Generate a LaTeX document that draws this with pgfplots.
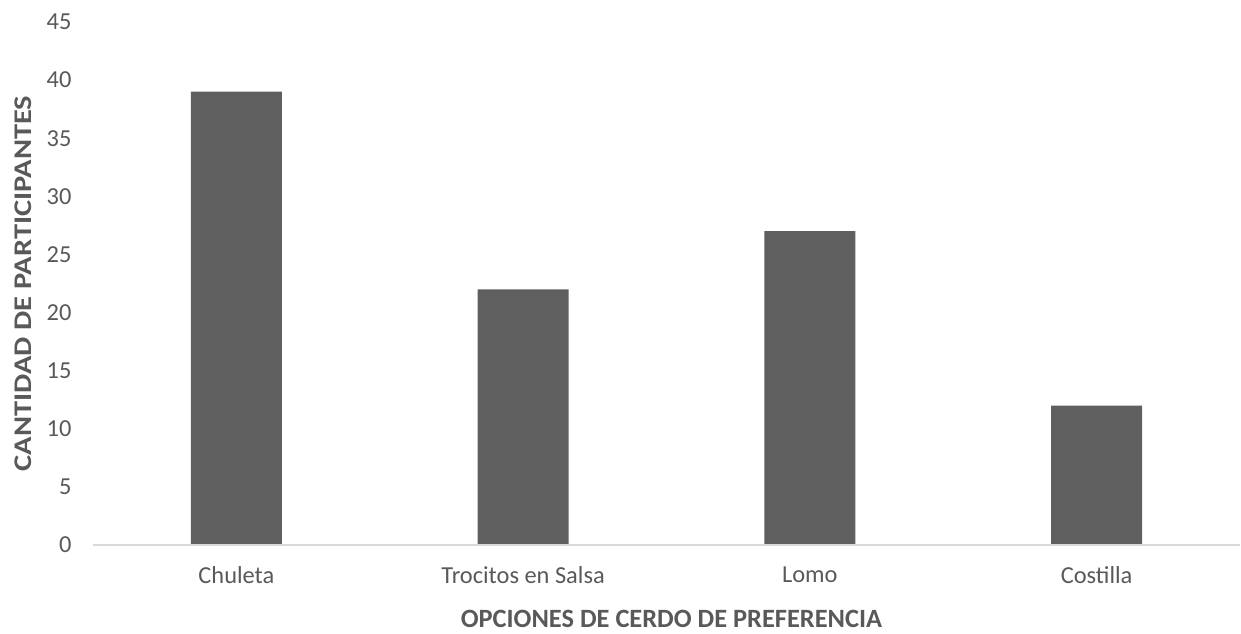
\documentclass[border=0pt]{standalone}
\usepackage{fontspec}
\setmainfont{Carlito}
\usepackage{graphicx}
\usepackage{pgfplots}
\pgfplotsset{compat=1.18}
\definecolor{bargray}{RGB}{95,95,95}
\definecolor{txtgray}{RGB}{89,89,89}
\definecolor{axgray}{RGB}{217,217,217}
\begin{document}
\begin{tikzpicture}
\begin{axis}[
  scale only axis,
  width=1147bp, height=523bp,
  xmin=-0.5, xmax=3.5,
  ymin=0, ymax=45,
  ytick={0,5,...,45},
  xtick=data,
  xticklabels={Chuleta,Trocitos en Salsa,Lomo,Costilla},
  axis line style={draw=none},
  axis x line*=bottom,
  axis y line=none,
  hide y axis=false,
  major tick length=0pt,
  ybar,
  bar width=91bp,
  /pgf/number format/assume math mode=true,
  tick label style={font=\fontsize{24.5}{29}\selectfont, text=txtgray},
  yticklabel style={xshift=-18bp},
  xticklabel style={yshift=-18bp},
  xlabel={\textbf{OPCIONES DE CERDO DE PREFERENCIA}},
  ylabel={\scalebox{1.2}[1]{\textbf{CANTIDAD DE PARTICIPANTES}}},
  label style={font=\fontsize{26.5}{30}\selectfont, text=txtgray},
  xlabel style={yshift=-20bp, xshift=5bp},
  ylabel style={font=\fontsize{25.5}{30}\selectfont, yshift=8bp},
  clip=false,
]
\addplot[fill=bargray, draw=none] coordinates {(0,39) (1,22) (2,27) (3,12)};
\draw[axgray, line width=1.5bp] (axis cs:-0.5,0) -- (axis cs:3.5,0);
\end{axis}
\pgfresetboundingbox
\path (-93bp,-89bp) rectangle (1148bp,545bp);
\end{tikzpicture}
\end{document}
